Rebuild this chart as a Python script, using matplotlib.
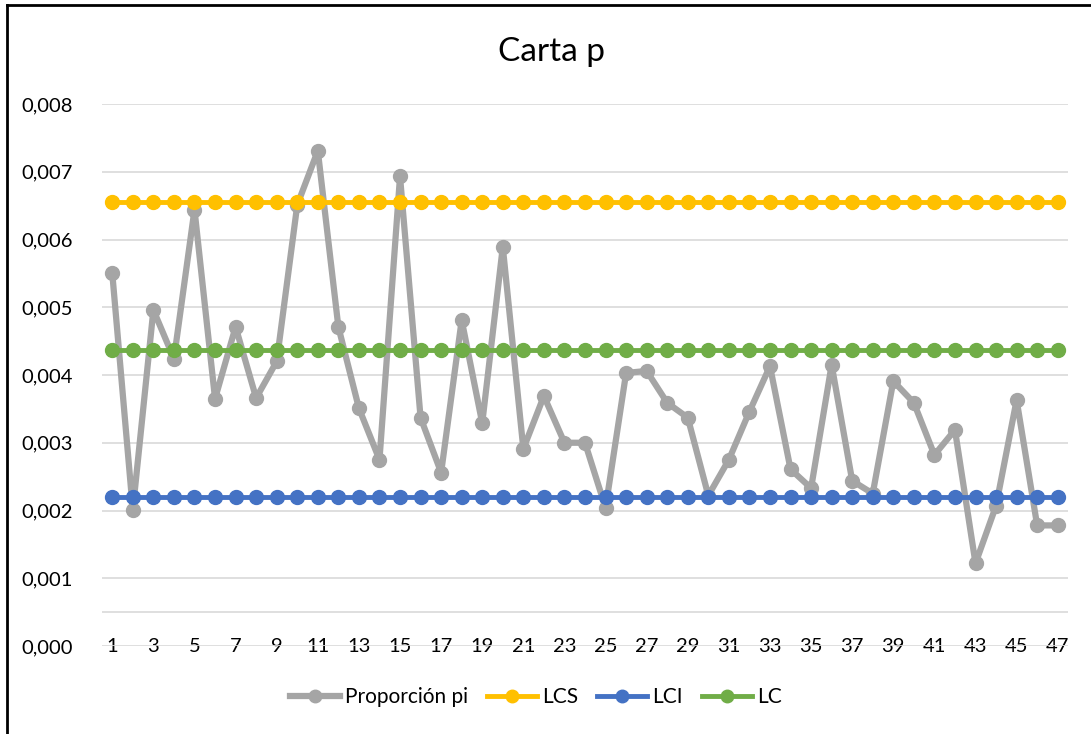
import matplotlib.pyplot as plt
import numpy as np
from matplotlib.lines import Line2D

plt.rcParams['font.family'] = ['Lato', 'DejaVu Sans']

# datos de la carta p
muestras = list(range(1, 48))
proporcion = [0.00550, 0.00201, 0.00496, 0.00424, 0.00644, 0.00365, 0.00471, 0.00366,
              0.00420, 0.00651, 0.00731, 0.00471, 0.00351, 0.00275, 0.00693, 0.00337,
              0.00256, 0.00481, 0.00329, 0.00589, 0.00291, 0.00369, 0.00300, 0.00300,
              0.00204, 0.00403, 0.00406, 0.00359, 0.00337, 0.00222, 0.00275, 0.00346,
              0.00413, 0.00261, 0.00233, 0.00415, 0.00244, 0.00225, 0.00391, 0.00359,
              0.00282, 0.00319, 0.00122, 0.00207, 0.00363, 0.00178, 0.00178]
lcs = 0.00655
lci = 0.00220
lc = 0.00437
etiquetas_x = [str(m) for m in muestras[::2]]

gris = "#A5A5A5"
amarillo = "#FFC000"
azul = "#4472C4"
verde = "#70AD47"

fig = plt.figure(figsize=(10.91, 7.34), dpi=100)
ax = fig.add_axes([102 / 1091, 1 - 646 / 734, (1068 - 102) / 1091, (646 - 104) / 734])

x = np.array(muestras)
ax.plot(x, proporcion, color=gris, lw=4.5, marker="o", ms=10, label="Proporción pi", zorder=3)
ax.plot(x, [lcs] * len(x), color=amarillo, lw=3.5, marker="o", ms=10, label="LCS", zorder=4)
ax.plot(x, [lci] * len(x), color=azul, lw=3.5, marker="o", ms=10, label="LCI", zorder=4)
ax.plot(x, [lc] * len(x), color=verde, lw=3.5, marker="o", ms=10, label="LC", zorder=4)

ax.set_xlim(0.5, 47.5)
ax.set_ylim(0, 0.008)
yt = np.arange(0, 0.0081, 0.001)
ax.set_yticks(yt)
ax.set_yticklabels([f"{v:.3f}".replace(".", ",") for v in yt])
ax.set_xticks(muestras[::2])
ax.set_xticklabels(etiquetas_x)
ax.tick_params(axis="both", length=0, labelsize=14.5)
ax.tick_params(axis="y", pad=21)
ax.tick_params(axis="x", pad=0)
plt.setp(ax.get_xticklabels(), va="center")

ax.grid(axis="y", color="#D9D9D9", lw=1.2, zorder=0)
ax.axhline(0.0005, color="#D9D9D9", lw=1.2, zorder=0)
for s in ax.spines.values():
    s.set_visible(False)

fig.text(551 / 1091, 1 - 52 / 734, "Carta p", ha="center", va="center", fontsize=24)

ax.legend(loc="center", bbox_to_anchor=(536 / 1091, 1 - 697 / 734), bbox_transform=fig.transFigure,
          ncol=4, frameon=False, fontsize=15, handlelength=2.4, handletextpad=0.25,
          columnspacing=0.9, markerscale=0.9)

# marco del grafico
fig.add_artist(Line2D([7 / 1091, 7 / 1091], [0, 1 - 5 / 734], color="black", lw=2))
fig.add_artist(Line2D([7 / 1091, 1], [1 - 5 / 734, 1 - 5 / 734], color="black", lw=2))

fig.savefig("out.png", dpi=100)
